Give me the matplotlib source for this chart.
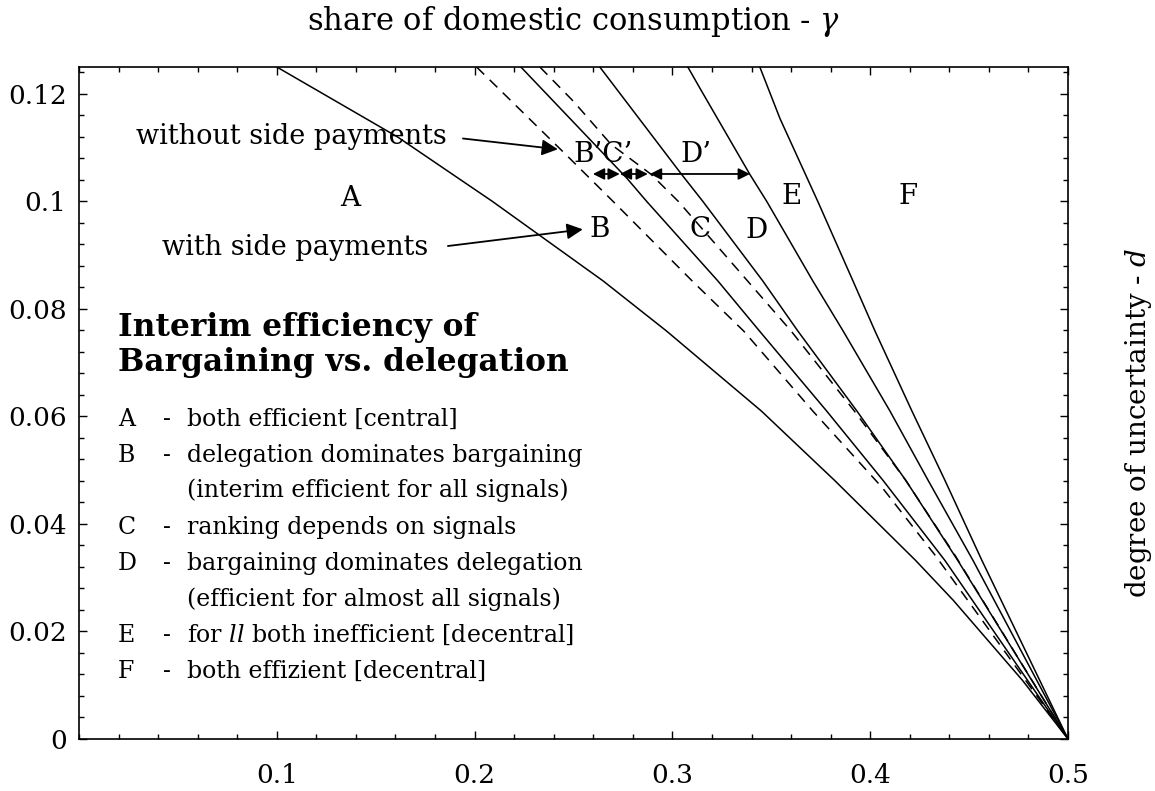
import matplotlib
matplotlib.use("Agg")
import matplotlib.pyplot as plt
from matplotlib.ticker import MultipleLocator, FixedLocator

plt.rcParams['font.family'] = ['DejaVu Serif']
plt.rcParams['mathtext.fontset'] = 'dejavuserif'

# boundary curves (gamma, d), all meeting at (0.5, 0)
ab_x = [0.100, 0.161, 0.209, 0.265, 0.297, 0.345, 0.382, 0.423, 0.442, 0.477, 0.5]
ab_d = [0.125, 0.112, 0.100, 0.0852, 0.0759, 0.0610, 0.0481, 0.0332, 0.0258, 0.0109, 0.0]

bprime_x = [0.201, 0.247, 0.270, 0.310, 0.336, 0.371, 0.406, 0.433, 0.5]
bprime_d = [0.125, 0.1084, 0.100, 0.0852, 0.0759, 0.061, 0.0468, 0.0341, 0.0]

bc_x = [0.2234, 0.277, 0.287, 0.323, 0.344, 0.378, 0.4065, 0.4378, 0.5]
bc_d = [0.125, 0.1043, 0.100, 0.0852, 0.0759, 0.061, 0.0481, 0.0332, 0.0]

cprime_x = [0.233, 0.250, 0.269, 0.289, 0.303, 0.338, 0.360, 0.392, 0.418, 0.443, 0.5]
cprime_d = [0.125, 0.1186, 0.1106, 0.1051, 0.100, 0.0852, 0.0759, 0.061, 0.0481, 0.0341, 0.0]

cd_x = [0.2633, 0.3047, 0.3154, 0.3457, 0.3634, 0.3933, 0.418, 0.4443, 0.5]
cd_d = [0.125, 0.105, 0.100, 0.0852, 0.0759, 0.061, 0.0481, 0.0332, 0.0]

de_x = [0.3078, 0.314, 0.3392, 0.3477, 0.3710, 0.3863, 0.410, 0.4293, 0.452, 0.5]
de_d = [0.125, 0.121, 0.105, 0.100, 0.0852, 0.0759, 0.061, 0.0481, 0.0332, 0.0]

ef_x = [0.3442, 0.3544, 0.3735, 0.3913, 0.4024, 0.4211, 0.4378, 0.4565, 0.5]
ef_d = [0.125, 0.1154, 0.100, 0.0852, 0.0759, 0.061, 0.0481, 0.0332, 0.0]

solid_curves = [(ab_x, ab_d), (bc_x, bc_d), (cd_x, cd_d), (de_x, de_d), (ef_x, ef_d)]
dashed_curves = [(bprime_x, bprime_d), (cprime_x, cprime_d)]

# region labels
region_labels = ['A', 'B', 'C', 'D', 'E', 'F', 'B\u2019C\u2019', 'D\u2019']
region_x = [0.137, 0.2633, 0.3139, 0.3427, 0.3603, 0.419, 0.265, 0.312]
region_d = [0.1006, 0.0948, 0.0948, 0.0945, 0.101, 0.101, 0.1087, 0.1087]

# width arrows for B', C', D'
span_starts = [0.2598, 0.2734, 0.2886]
span_ends = [0.2734, 0.2876, 0.3392]
span_d = 0.1051

legend_title = ['Interim efficiency of', 'Bargaining vs. delegation']
legend_keys = ['A', 'B', '', 'C', 'D', '', 'E', 'F']
legend_text = ['both efficient [central]',
               'delegation dominates bargaining',
               '(interim efficient for all signals)',
               'ranking depends on signals',
               'bargaining dominates delegation',
               '(efficient for almost all signals)',
               'for $ll$ both inefficient [decentral]',
               'both effizient [decentral]']

xticks = [0.1, 0.2, 0.3, 0.4, 0.5]
xticklabels = ['0.1', '0.2', '0.3', '0.4', '0.5']
yticks = [0, 0.02, 0.04, 0.06, 0.08, 0.1, 0.12]
yticklabels = ['0', '0.02', '0.04', '0.06', '0.08', '0.1', '0.12']

fig = plt.figure(figsize=(11.55, 7.91), dpi=100)
ax = fig.add_axes([79 / 1155, 52 / 791, 989 / 1155, 672 / 791])

for xs, ds in solid_curves:
    ax.plot(xs, ds, color='black', lw=1.1)
for xs, ds in dashed_curves:
    ax.plot(xs, ds, color='black', lw=1.1, linestyle=(0, (7, 5)))

ax.set_xlim(0, 0.5)
ax.set_ylim(0, 0.125)

for lab, x, d in zip(region_labels, region_x, region_d):
    ax.text(x, d, lab, fontsize=20, ha='center', va='center')

for x0, x1 in zip(span_starts, span_ends):
    ax.annotate('', xy=(x1, span_d), xytext=(x0, span_d),
                arrowprops=dict(arrowstyle='<|-|>', color='black', lw=1.3,
                                mutation_scale=17, shrinkA=0, shrinkB=0))

# side payment annotations
ax.text(0.186, 0.1121, 'without side payments', fontsize=19.5, ha='right', va='center')
ax.annotate('', xy=(0.2421, 0.1097), xytext=(0.1941, 0.1117),
            arrowprops=dict(arrowstyle='-|>', color='black', lw=1.3,
                            mutation_scale=24, shrinkA=0, shrinkB=0))
ax.text(0.1765, 0.0915, 'with side payments', fontsize=19.5, ha='right', va='center')
ax.annotate('', xy=(0.2547, 0.0948), xytext=(0.1865, 0.0917),
            arrowprops=dict(arrowstyle='-|>', color='black', lw=1.3,
                            mutation_scale=24, shrinkA=0, shrinkB=0))

# explanation block
title_d = [0.0766, 0.0700]
for t, d in zip(legend_title, title_d):
    ax.text(0.0196, d, t, fontsize=22.5, fontweight='bold', ha='left', va='center')
line_d = [0.0594, 0.0527, 0.0462, 0.0393, 0.0327, 0.0260, 0.0193, 0.0126]
for key, txt, d in zip(legend_keys, legend_text, line_d):
    if key:
        ax.text(0.0196, d, key, fontsize=17, ha='left', va='center')
        ax.text(0.0424, d, '-', fontsize=17, ha='left', va='center')
    ax.text(0.0545, d, txt, fontsize=17, ha='left', va='center')

ax.xaxis.set_major_locator(FixedLocator(xticks))
ax.set_xticklabels(xticklabels)
ax.xaxis.set_minor_locator(MultipleLocator(0.02))
ax.yaxis.set_major_locator(FixedLocator(yticks))
ax.set_yticklabels(yticklabels)
ax.yaxis.set_minor_locator(MultipleLocator(0.004))
ax.tick_params(which='both', direction='in', top=True, right=True, width=1.0)
ax.tick_params(which='major', length=6, labelsize=19)
ax.tick_params(which='minor', length=3.5)
ax.tick_params(axis='x', pad=17)
ax.tick_params(axis='y', pad=9)
for sp in ax.spines.values():
    sp.set_linewidth(1.2)

ax.set_xlabel('share of domestic consumption - $\\gamma$', fontsize=22)
ax.xaxis.set_label_position('top')
ax.xaxis.set_label_coords(0.5, 1.067)
ax.xaxis.label.set_va('center')
ax.set_ylabel('degree of uncertainty - $d$', fontsize=20)
ax.yaxis.set_label_position('right')
ax.yaxis.set_label_coords(1.0708, 0.47)
ax.yaxis.label.set_va('center')

fig.savefig('out.png', dpi=100)
